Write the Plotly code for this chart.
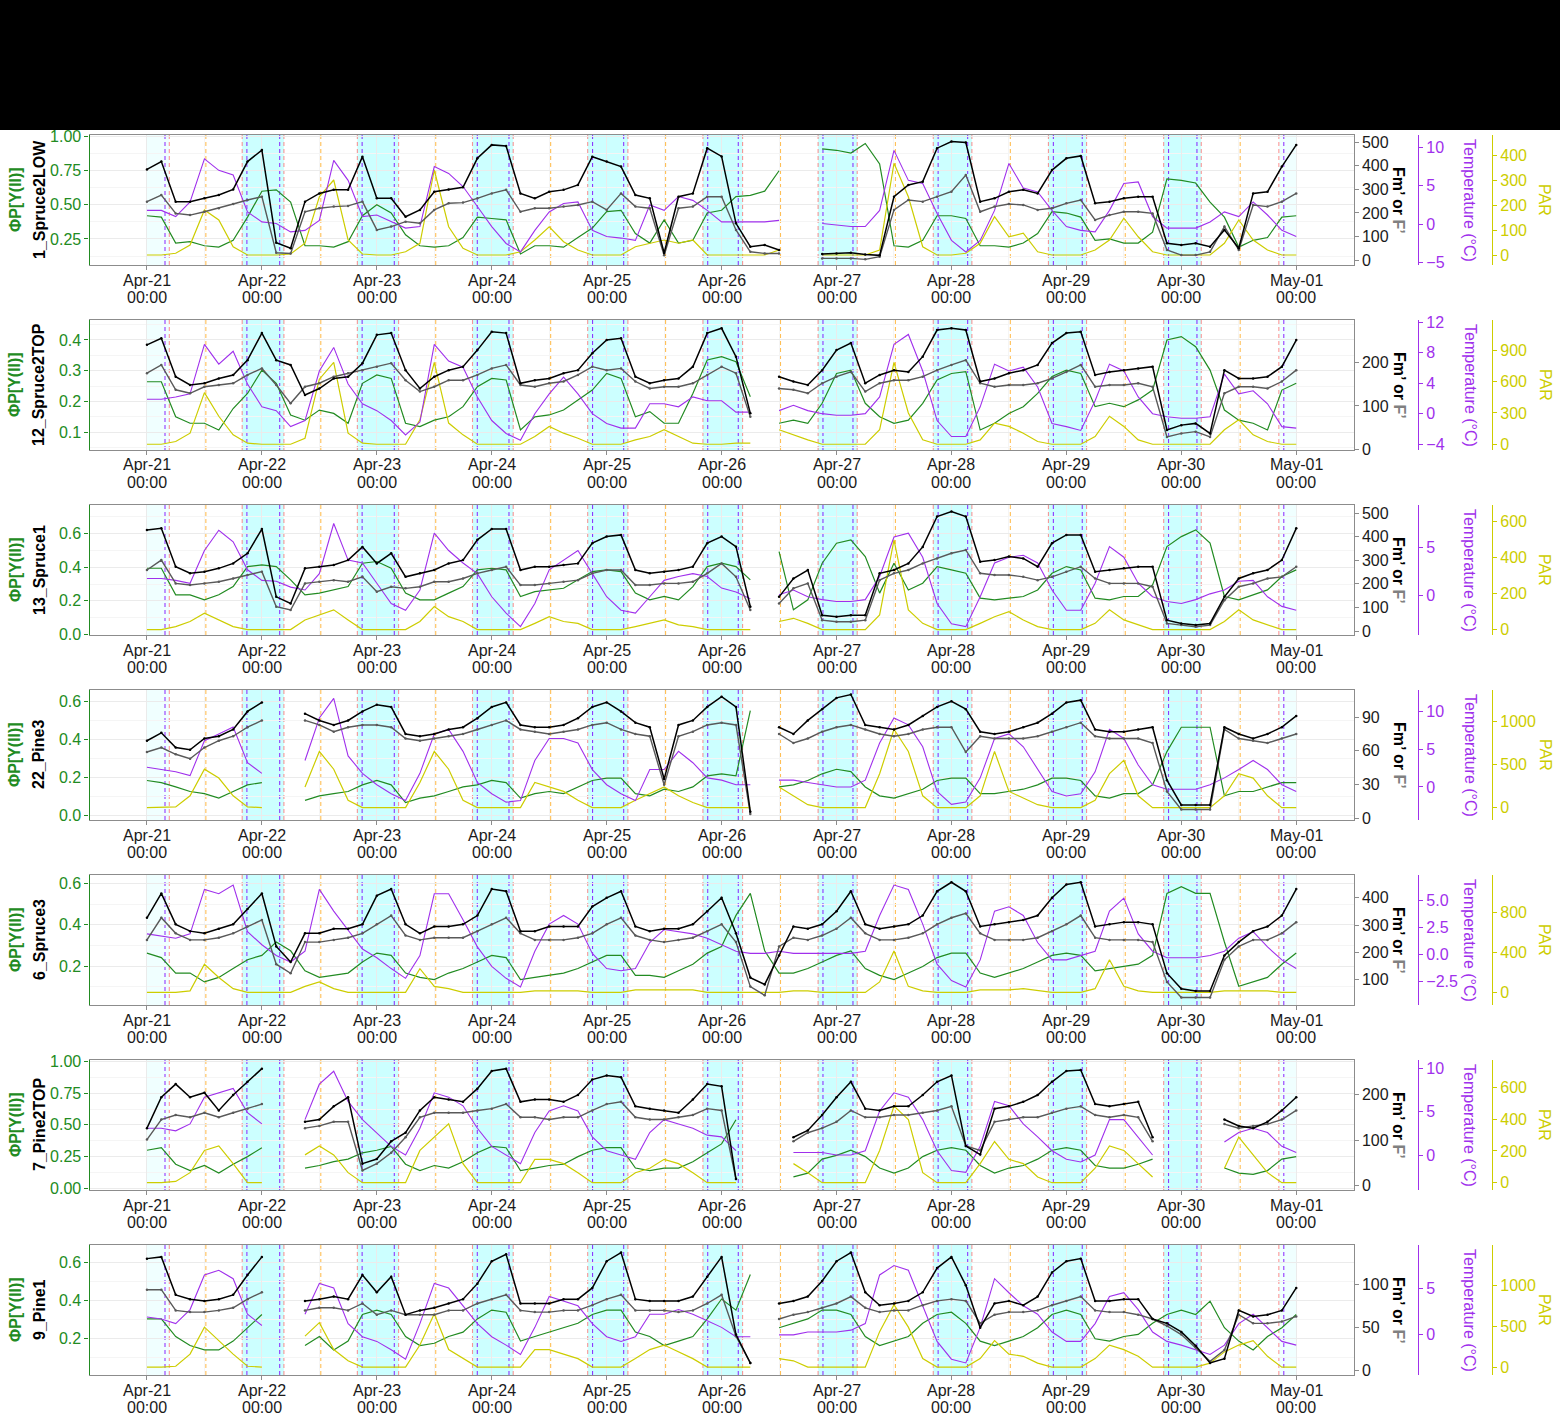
import plotly.graph_objects as go
import pandas as pd

N = None
W, H = 1560, 1424

# ---------------- time grid / labels ----------------
times = pd.date_range("2021-04-21 00:00", "2021-05-01 00:00", freq="3h")
day_ticks = pd.date_range("2021-04-21", "2021-05-01", freq="D")
tick_day = [d.strftime("%b-%d") for d in day_ticks]
tick_hour = ["00:00"] * len(day_ticks)

sunrise = ["2021-04-21 04:40", "2021-04-22 04:36", "2021-04-23 04:33", "2021-04-24 04:29", "2021-04-25 04:26",
           "2021-04-26 04:23", "2021-04-27 04:19", "2021-04-28 04:16", "2021-04-29 04:13", "2021-04-30 04:10"]
sunset = ["2021-04-21 19:53", "2021-04-22 19:56", "2021-04-23 19:59", "2021-04-24 20:02", "2021-04-25 20:06",
          "2021-04-26 20:09", "2021-04-27 20:12", "2021-04-28 20:15", "2021-04-29 20:19", "2021-04-30 20:22"]
dawn = ["2021-04-21 03:46", "2021-04-22 03:43", "2021-04-23 03:39", "2021-04-24 03:36", "2021-04-25 03:33",
        "2021-04-26 03:29", "2021-04-27 03:26", "2021-04-28 03:23", "2021-04-29 03:19", "2021-04-30 03:16"]
dusk = ["2021-04-21 20:52", "2021-04-22 20:56", "2021-04-23 20:59", "2021-04-24 21:03", "2021-04-25 21:06",
        "2021-04-26 21:10", "2021-04-27 21:13", "2021-04-28 21:17", "2021-04-29 21:20", "2021-04-30 21:24"]
noon = ["2021-04-21 12:18", "2021-04-22 12:18", "2021-04-23 12:18", "2021-04-24 12:18", "2021-04-25 12:18",
        "2021-04-26 12:18", "2021-04-27 12:18", "2021-04-28 12:18", "2021-04-29 12:18", "2021-04-30 12:18"]

panel_names = ["1_Spruce2LOW", "12_Spruce2TOP", "13_Spruce1", "22_Pine3", "6_Spruce3", "7_Pine2TOP", "9_Pine1"]

# ---------------- Panel 1 : 1_Spruce2LOW ----------------
p1_fm = [385, 418, 248, 248, 262, 276, 300, 418,
         467, 74, 50, 248, 283, 298, 298, 439,
         262, 262, 184, 213, 290, 300, 309, 432,
         489, 484, 283, 262, 290, 298, 319, 439,
         418, 397, 276, 262, 30, 269, 283, 475,
         440, 156, 57, 64, 43, N, N, 26,
         28, 31, 24, 20, 269, 319, 333, 475,
         503, 499, 248, 262, 290, 298, 283, 382,
         432, 442, 241, 248, 262, 269, 269, 71,
         64, 71, 57, 128, 50, 283, 290, 397,
         489]
p1_f = [248, 276, 198, 191, 205, 220, 238, 255,
        269, 31, 28, 205, 220, 227, 230, 248,
        128, 142, 163, 156, 213, 241, 244, 262,
        283, 298, 205, 220, 220, 227, 234, 248,
        213, 283, 227, 220, 20, 220, 227, 269,
        269, 128, 35, 28, 28, N, N, 7,
        7, 7, 3, 14, 213, 255, 248, 269,
        290, 361, 205, 227, 238, 234, 213, 220,
        241, 255, 170, 191, 205, 205, 198, 43,
        21, 21, 35, 142, 43, 234, 227, 248,
        283]
p1_phi = [0.42, 0.41, 0.22, 0.23, 0.20, 0.19, 0.24, 0.41,
          0.60, 0.61, 0.52, 0.20, 0.20, 0.19, 0.23, 0.42,
          0.50, 0.44, 0.28, 0.20, 0.19, 0.20, 0.26, 0.41,
          0.40, 0.39, 0.14, 0.20, 0.20, 0.19, 0.26, 0.33,
          0.45, 0.46, 0.29, 0.22, 0.39, 0.22, 0.24, 0.44,
          0.46, 0.56, 0.57, 0.60, 0.75, N, N, 0.91,
          0.90, 0.88, 0.95, 0.80, 0.20, 0.19, 0.24, 0.42,
          0.42, 0.40, 0.20, 0.20, 0.19, 0.22, 0.29, 0.45,
          0.44, 0.41, 0.24, 0.25, 0.22, 0.22, 0.30, 0.69,
          0.68, 0.66, 0.52, 0.41, 0.19, 0.24, 0.26, 0.41,
          0.42]
p1_temp = [1.8, 1.8, 1.0, 2.9, 8.5, 7.0, 6.4, 1.6,
           0.3, 0.1, -1.0, -0.8, 0.5, 8.3, 5.7, 1.0,
           1.2, 0.3, -0.5, -0.3, 7.5, 6.6, 4.9, 2.3,
           -0.3, -2.5, -3.6, -0.8, 1.6, 2.7, 2.9, -0.8,
           -1.6, -1.8, -2.1, 2.5, 1.8, 3.6, 3.1, 1.8,
           0.3, 0.3, 0.3, 0.3, 0.5, N, N, 0.1,
           -0.1, -0.3, -0.3, 1.8, 9.6, 5.7, 5.3, 1.4,
           -2.1, -3.6, -2.1, 1.8, 7.9, 4.7, 4.2, 1.8,
           -0.3, -0.8, -1.0, 1.8, 5.3, 5.5, 1.0, -0.5,
           -0.5, -0.5, 0.3, 1.6, 1.0, 2.9, 1.2, -0.8,
           -1.6]
p1_par = [0, 0, 7, 40, 180, 140, 33, 0,
          0, 0, 4, 47, 233, 300, 60, 4,
          0, 0, 13, 47, 340, 113, 27, 0,
          0, 0, 13, 60, 113, 53, 20, 0,
          0, 0, 33, 47, 60, 47, 60, 0,
          0, 0, 0, 0, 20, N, N, 0,
          0, 0, 0, 20, 367, 233, 33, 0,
          0, 7, 47, 153, 73, 87, 13, 0,
          0, 0, 20, 60, 147, 73, 13, 0,
          0, 0, 0, 47, 140, 60, 20, 0,
          0]

# ---------------- Panel 2 : 12_Spruce2TOP ----------------
p2_fm = [240, 255, 167, 148, 152, 163, 171, 205,
         267, 205, 194, 125, 140, 163, 167, 198,
         263, 267, 182, 140, 167, 182, 190, 228,
         270, 267, 152, 159, 163, 175, 182, 221,
         251, 255, 167, 152, 159, 163, 190, 267,
         278, 213, 83, N, 167, 156, 148, 182,
         228, 244, 152, 171, 182, 178, 213, 274,
         278, 274, 156, 163, 175, 182, 194, 244,
         267, 270, 171, 178, 182, 186, 190, 45,
         56, 60, 37, 182, 163, 163, 167, 190,
         251]
p2_f = [175, 194, 137, 129, 144, 148, 152, 171,
        186, 148, 106, 144, 152, 167, 175, 182,
        190, 198, 159, 133, 144, 159, 159, 171,
        186, 194, 148, 144, 152, 156, 171, 190,
        182, 186, 156, 140, 144, 144, 152, 171,
        190, 175, 75, N, 140, 137, 129, 152,
        167, 178, 133, 152, 159, 159, 167, 182,
        194, 205, 152, 144, 148, 148, 152, 163,
        178, 194, 144, 148, 148, 152, 144, 29,
        37, 41, 29, 129, 144, 144, 140, 156,
        182]
p2_phi = [0.264, 0.264, 0.150, 0.129, 0.129, 0.107, 0.177, 0.226,
          0.302, 0.259, 0.156, 0.139, 0.172, 0.161, 0.129, 0.259,
          0.286, 0.275, 0.129, 0.118, 0.139, 0.150, 0.183, 0.248,
          0.275, 0.270, 0.107, 0.150, 0.156, 0.172, 0.205, 0.237,
          0.291, 0.275, 0.150, 0.167, 0.129, 0.129, 0.226, 0.335,
          0.346, 0.329, 0.215, N, 0.129, 0.139, 0.129, 0.194,
          0.291, 0.302, 0.194, 0.150, 0.129, 0.139, 0.194, 0.270,
          0.291, 0.297, 0.107, 0.129, 0.161, 0.183, 0.226, 0.281,
          0.302, 0.291, 0.183, 0.194, 0.183, 0.205, 0.237, 0.400,
          0.411, 0.378, 0.302, 0.172, 0.139, 0.129, 0.107, 0.237,
          0.259]
p2_temp = [1.9, 1.9, 2.2, 2.6, 9.1, 6.5, 8.2, 3.9,
           0.9, 0.4, -1.7, -0.9, 5.6, 8.7, 3.9, 1.3,
           0.4, -0.9, -2.8, -1.1, 9.1, 6.9, 6.1, 2.2,
           -0.9, -2.6, -3.5, 0.0, 2.6, 4.8, 2.6, 0.0,
           -1.3, -1.9, -1.9, 1.3, 1.3, 0.9, 2.2, 1.7,
           1.7, 0.2, 0.2, N, 0.4, 1.1, 0.4, 0.0,
           -0.2, -0.2, 0.0, 2.2, 9.1, 10.4, 5.6, -0.9,
           -3.0, -3.0, 0.9, 6.5, 5.6, 6.1, 3.5, -1.3,
           -1.7, -2.2, 1.7, 6.5, 5.6, 2.2, 0.0, -0.4,
           -0.6, -0.6, -0.4, 5.2, 2.6, 3.0, 1.3, -1.7,
           -1.9]
p2_par = [0, 0, 26, 106, 494, 268, 90, 10,
          0, 0, 0, 58, 623, 784, 106, 10,
          0, 0, 0, 235, 784, 203, 90, 0,
          0, 0, 0, 74, 171, 106, 58, 0,
          0, 0, 42, 74, 139, 74, 10, 0,
          0, 10, 10, N, 139, 90, 42, 0,
          0, 0, 0, 139, 784, 300, 42, 0,
          0, 0, 42, 203, 171, 106, 26, 0,
          0, 0, 74, 268, 171, 42, 0, 0,
          0, 0, 0, 139, 235, 90, 26, 0,
          0]

# ---------------- Panel 3 : 13_Spruce1 ----------------
p3_fm = [429, 436, 273, 245, 252, 266, 287, 330,
         433, 145, 117, 266, 273, 280, 301, 357,
         287, 330, 230, 245, 259, 287, 301, 387,
         433, 433, 259, 273, 273, 280, 287, 373,
         401, 408, 259, 245, 252, 259, 273, 373,
         401, 358, 103, N, 145, 223, 259, 67,
         60, 67, 67, 245, 259, 287, 357, 486,
         507, 486, 294, 301, 316, 308, 273, 373,
         408, 408, 252, 259, 266, 273, 273, 46,
         32, 25, 32, 145, 223, 245, 259, 301,
         436]
p3_f = [259, 301, 202, 195, 202, 209, 223, 238,
        252, 103, 89, 202, 209, 216, 209, 230,
        167, 188, 181, 188, 209, 209, 223, 245,
        259, 273, 195, 195, 202, 209, 216, 245,
        259, 259, 195, 195, 202, 202, 209, 245,
        287, 230, 89, N, 117, 181, 202, 46,
        39, 39, 46, 216, 245, 259, 287, 308,
        330, 344, 245, 238, 238, 230, 216, 230,
        252, 273, 223, 202, 202, 202, 188, 32,
        25, 18, 25, 131, 188, 202, 223, 230,
        273]
p3_phi = [0.394, 0.394, 0.236, 0.236, 0.206, 0.236, 0.285, 0.404,
          0.414, 0.404, 0.325, 0.236, 0.246, 0.265, 0.285, 0.424,
          0.434, 0.394, 0.246, 0.206, 0.206, 0.246, 0.285, 0.384,
          0.394, 0.384, 0.226, 0.255, 0.265, 0.275, 0.325, 0.374,
          0.384, 0.374, 0.246, 0.206, 0.226, 0.206, 0.285, 0.404,
          0.424, 0.404, 0.325, N, 0.493, 0.147, 0.206, 0.424,
          0.543, 0.562, 0.463, 0.246, 0.424, 0.265, 0.305, 0.404,
          0.384, 0.364, 0.216, 0.206, 0.216, 0.226, 0.265, 0.364,
          0.404, 0.384, 0.216, 0.206, 0.226, 0.226, 0.295, 0.523,
          0.582, 0.622, 0.543, 0.226, 0.206, 0.236, 0.265, 0.345,
          0.384]
p3_temp = [1.8, 1.8, 1.6, 1.3, 4.7, 6.8, 5.6, 2.7,
           1.6, 1.5, 0.9, 0.6, 2.3, 7.5, 3.7, 3.4,
           1.3, -0.8, -1.5, 0.6, 6.5, 4.7, 3.4, 2.3,
           -0.1, -1.8, -3.2, -0.8, 2.7, 3.7, 4.7, 2.3,
           -0.1, -1.5, -1.8, -0.1, 1.6, 2.0, 2.3, 2.0,
           0.8, 0.4, -0.3, N, 0.1, 0.6, -0.1, -0.4,
           -0.6, -0.6, -0.4, 2.0, 6.1, 6.5, 4.0, -0.8,
           -2.9, -3.2, -0.1, 3.4, 4.0, 4.2, 3.4, 0.6,
           -1.5, -1.5, 1.3, 5.1, 4.0, 1.3, -0.1, -0.6,
           -0.8, -0.4, 0.2, 0.6, 1.5, 1.6, -0.1, -1.1,
           -1.5]
p3_par = [0, 0, 17, 45, 91, 54, 17, 0,
          0, 0, 0, 54, 82, 110, 54, 0,
          0, 0, 0, 45, 128, 72, 45, 0,
          0, 0, 0, 35, 72, 45, 35, 0,
          0, 0, 17, 35, 54, 26, 17, 0,
          0, 0, 0, N, 45, 63, 35, 0,
          0, 0, 0, 82, 500, 110, 35, 0,
          0, 0, 35, 72, 100, 54, 17, 0,
          0, 0, 35, 110, 54, 26, 0, 0,
          0, 0, 0, 45, 110, 54, 26, 0,
          0]

# ---------------- Panel 4 : 22_Pine3 ----------------
p4_fm = [69, 76, 63, 61, 71, 73, 79, 95,
         103, N, N, 93, 87, 83, 87, 95,
         101, 99, 75, 73, 75, 79, 81, 89,
         99, 103, 83, 81, 81, 83, 89, 99,
         103, 95, 85, 81, 35, 83, 87, 99,
         108, 99, 6, N, 81, 75, 87, 97,
         107, 110, 83, 81, 79, 83, 91, 99,
         104, 97, 77, 75, 77, 81, 85, 93,
         103, 105, 79, 77, 77, 79, 81, 34,
         12, 12, 12, 81, 75, 71, 75, 81,
         91]
p4_f = [59, 63, 57, 53, 63, 69, 73, 81,
        87, N, N, 87, 83, 77, 81, 83,
        83, 81, 71, 69, 71, 73, 75, 79,
        83, 87, 79, 77, 75, 77, 79, 83,
        85, 79, 75, 73, 30, 73, 77, 83,
        85, 83, 4, N, 75, 67, 71, 77,
        81, 83, 79, 75, 73, 75, 79, 81,
        81, 59, 73, 71, 71, 71, 73, 77,
        81, 85, 73, 71, 71, 71, 67, 24,
        8, 8, 8, 79, 71, 69, 67, 71,
        75]
p4_phi = [0.183, 0.172, 0.149, 0.125, 0.114, 0.090, 0.125, 0.160,
          0.172, N, N, 0.078, 0.102, 0.114, 0.125, 0.160,
          0.183, 0.160, 0.067, 0.090, 0.102, 0.125, 0.149, 0.160,
          0.183, 0.172, 0.090, 0.114, 0.125, 0.114, 0.149, 0.183,
          0.195, 0.195, 0.114, 0.102, 0.137, 0.125, 0.149, 0.207,
          0.218, 0.207, 0.550, N, 0.149, 0.160, 0.183, 0.218,
          0.242, 0.230, 0.149, 0.102, 0.090, 0.114, 0.137, 0.183,
          0.195, 0.195, 0.114, 0.114, 0.125, 0.137, 0.160, 0.195,
          0.195, 0.183, 0.102, 0.090, 0.114, 0.114, 0.160, 0.335,
          0.463, 0.463, 0.463, 0.102, 0.125, 0.125, 0.149, 0.172,
          0.172]
p4_temp = [2.6, 2.3, 2.0, 1.5, 6.1, 7.0, 7.9, 3.2,
           1.8, N, N, 3.5, 9.1, 11.7, 4.1, 1.8,
           0.3, -0.9, -1.8, 1.8, 7.0, 7.6, 4.7, 0.6,
           -0.9, -2.0, -1.8, 3.5, 6.4, 6.4, 5.8, 2.3,
           0.3, -0.9, -1.8, 2.3, 2.3, 4.7, 3.2, 1.2,
           0.9, 0.3, 0.3, N, 0.9, 0.9, 0.6, 0.3,
           0.0, 0.0, 0.9, 5.8, 9.1, 8.2, 5.3, -0.6,
           -2.3, -2.0, 1.2, 6.4, 7.0, 5.3, 2.3, -0.6,
           -1.2, -0.9, 2.0, 7.6, 6.4, 2.9, 0.3, -0.3,
           -0.3, -0.3, 0.3, 1.2, 2.3, 3.5, 2.3, 0.3,
           -0.6]
p4_par = [0, 0, 8, 137, 446, 343, 137, 8,
          0, N, N, 240, 652, 446, 86, 0,
          0, 0, 0, 292, 652, 446, 86, 0,
          0, 0, 0, 292, 240, 188, 86, 0,
          0, 0, 86, 163, 240, 137, 60, 0,
          0, 0, 0, N, 240, 137, 34, 0,
          0, 0, 0, 394, 910, 652, 137, 0,
          0, 0, 137, 652, 188, 111, 34, 0,
          0, 0, 86, 394, 549, 137, 0, 0,
          0, 0, 0, 137, 394, 343, 137, 0,
          0]

# ---------------- Panel 5 : 6_Spruce3 ----------------
p5_fm = [327, 416, 303, 278, 270, 287, 303, 359,
         416, 222, 165, 270, 270, 287, 287, 303,
         408, 432, 303, 270, 295, 295, 303, 335,
         432, 424, 278, 278, 295, 295, 295, 368,
         400, 424, 295, 278, 287, 287, 303, 351,
         400, 270, 108, 83, 189, 295, 287, 303,
         351, 424, 303, 287, 295, 303, 335, 424,
         457, 424, 295, 303, 311, 319, 335, 400,
         449, 457, 295, 303, 311, 311, 303, 124,
         67, 59, 59, 189, 238, 278, 295, 335,
         432]
p5_f = [246, 327, 270, 246, 246, 254, 270, 295,
        319, 157, 124, 238, 238, 246, 254, 270,
        303, 335, 262, 246, 254, 254, 254, 278,
        303, 327, 270, 246, 246, 246, 254, 270,
        303, 327, 262, 246, 238, 246, 254, 278,
        303, 238, 75, 43, 222, 254, 246, 262,
        287, 327, 270, 246, 246, 254, 270, 303,
        327, 343, 270, 246, 246, 246, 254, 278,
        303, 335, 254, 246, 246, 246, 238, 92,
        35, 35, 35, 173, 222, 246, 246, 270,
        311]
p5_phi = [0.263, 0.241, 0.166, 0.166, 0.123, 0.145, 0.188, 0.231,
          0.252, 0.317, 0.274, 0.177, 0.145, 0.155, 0.166, 0.220,
          0.263, 0.252, 0.166, 0.145, 0.134, 0.166, 0.188, 0.220,
          0.252, 0.241, 0.134, 0.145, 0.155, 0.166, 0.188, 0.220,
          0.252, 0.252, 0.155, 0.155, 0.145, 0.177, 0.209, 0.263,
          0.295, 0.446, 0.553, 0.274, 0.166, 0.166, 0.188, 0.220,
          0.252, 0.274, 0.188, 0.155, 0.134, 0.166, 0.198, 0.241,
          0.263, 0.263, 0.166, 0.145, 0.166, 0.188, 0.220, 0.252,
          0.263, 0.252, 0.177, 0.188, 0.198, 0.209, 0.252, 0.553,
          0.585, 0.553, 0.553, 0.317, 0.102, 0.123, 0.145, 0.209,
          0.263]
p5_temp = [1.9, 1.7, 1.5, 1.9, 6.0, 5.6, 6.4, 2.1,
           0.9, -0.1, -0.7, 0.3, 6.0, 4.0, 2.3, 0.5,
           -0.3, -1.3, -2.2, -0.1, 5.6, 5.6, 3.2, 0.7,
           -1.1, -2.2, -3.0, 0.3, 2.8, 3.6, 2.8, 0.1,
           -1.3, -1.5, -1.3, 1.1, 2.3, 2.1, 1.9, 1.5,
           0.9, 0.3, 0.1, 0.1, 0.3, 0.1, 0.1, 0.1,
           0.1, 0.1, 0.3, 3.6, 6.4, 6.0, 2.8, -0.9,
           -2.4, -3.0, -0.5, 4.0, 4.4, 3.6, 1.1, -0.5,
           -0.5, -0.1, 0.3, 4.0, 5.2, 1.9, 0.3, -0.3,
           -0.3, -0.3, -0.1, 0.3, 1.5, 2.1, 0.7, -0.5,
           -1.3]
p5_par = [0, 0, 0, 15, 280, 148, 37, 0,
          0, 0, 0, 60, 104, 37, 0, 0,
          0, 0, 0, 236, 60, 37, 0, 0,
          0, 0, 0, 15, 15, 15, 15, 0,
          0, 0, 24, 24, 24, 24, 24, 0,
          0, 0, 0, 0, 0, 15, 15, 0,
          0, 0, 0, 104, 413, 60, 15, 0,
          0, 0, 24, 24, 24, 37, 15, 0,
          0, 0, 37, 325, 60, 15, 0, 0,
          0, 0, 0, 15, 15, 15, 15, 0,
          0]

# ---------------- Panel 6 : 7_Pine2TOP ----------------
p6_fm = [126, 194, 223, 194, 204, 165, 199, 228,
         257, N, N, 140, 145, 174, 194, 48,
         58, 97, 116, 165, 194, 189, 184, 213,
         252, 257, 184, 189, 189, 184, 199, 233,
         242, 238, 174, 169, 165, 160, 189, 223,
         218, 14, N, N, N, 106, 121, 155,
         194, 228, 169, 165, 174, 174, 199, 228,
         242, 87, 68, 169, 174, 184, 199, 228,
         252, 254, 179, 174, 179, 184, 106, N,
         N, N, N, 145, 131, 126, 140, 165,
         194]
p6_f = [101, 145, 155, 150, 160, 150, 160, 169,
        179, N, N, 126, 131, 140, 140, 33,
        48, 72, 106, 150, 160, 160, 160, 165,
        169, 179, 150, 150, 145, 150, 150, 165,
        179, 184, 150, 145, 145, 150, 155, 169,
        165, 14, N, N, N, 97, 116, 126,
        140, 165, 150, 150, 155, 155, 160, 165,
        174, 87, 77, 140, 145, 150, 150, 160,
        169, 174, 155, 150, 155, 150, 97, N,
        N, N, N, 135, 126, 131, 135, 145,
        165]
p6_phi = [0.30, 0.32, 0.19, 0.14, 0.18, 0.12, 0.19, 0.25,
          0.32, N, N, 0.16, 0.18, 0.21, 0.23, 0.28,
          0.30, 0.33, 0.19, 0.14, 0.18, 0.16, 0.21, 0.28,
          0.33, 0.32, 0.14, 0.16, 0.18, 0.19, 0.25, 0.30,
          0.32, 0.32, 0.16, 0.14, 0.16, 0.16, 0.21, 0.28,
          0.35, 0.54, N, N, N, 0.09, 0.12, 0.23,
          0.26, 0.30, 0.25, 0.16, 0.12, 0.16, 0.25, 0.30,
          0.32, 0.30, 0.18, 0.12, 0.16, 0.18, 0.23, 0.30,
          0.32, 0.30, 0.18, 0.16, 0.16, 0.19, 0.23, N,
          N, N, N, 0.16, 0.12, 0.11, 0.14, 0.23,
          0.25]
p6_temp = [3.1, 3.1, 2.8, 3.6, 6.7, 7.2, 7.7, 4.9,
           3.6, N, N, 4.1, 8.2, 9.7, 6.2, 4.1,
           2.6, 1.0, 0.0, 3.1, 7.2, 6.7, 5.7, 3.1,
           1.0, 0.0, -1.0, 2.6, 5.1, 5.7, 5.1, 2.1,
           0.5, 0.0, -0.5, 2.6, 4.1, 3.6, 3.1, 2.3,
           2.1, 0.5, N, N, N, 0.3, 0.3, 0.3,
           0.0, 0.0, 0.5, 5.1, 7.2, 6.7, 4.1, 0.5,
           -1.8, -2.0, 1.0, 6.2, 5.7, 3.6, 2.1, 0.5,
           -0.5, -0.8, 0.0, 4.1, 4.1, 2.1, 0.0, N,
           N, N, N, 1.5, 2.6, 3.1, 2.6, 1.0,
           0.3]
p6_par = [0, 0, 8, 63, 203, 231, 120, 0,
          0, N, N, 175, 231, 175, 63, 0,
          0, 0, 0, 203, 287, 370, 120, 0,
          0, 0, 0, 147, 147, 120, 63, 0,
          0, 0, 63, 91, 147, 120, 63, 0,
          0, 0, N, N, N, 120, 63, 0,
          0, 0, 0, 203, 482, 397, 63, 0,
          0, 0, 120, 259, 147, 120, 36, 0,
          0, 0, 91, 231, 203, 120, 36, N,
          N, N, N, 91, 287, 175, 63, 0,
          0]

# ---------------- Panel 7 : 9_Pine1 ----------------
p7_fm = [130, 132, 88, 83, 81, 83, 88, 111,
         132, N, N, 81, 83, 86, 83, 111,
         91, 109, 65, 70, 73, 78, 83, 101,
         127, 135, 78, 78, 78, 83, 83, 96,
         127, 137, 83, 81, 81, 81, 86, 109,
         132, 42, 9, N, 78, 81, 86, 104,
         127, 137, 91, 76, 78, 81, 91, 119,
         132, 99, 50, 78, 81, 76, 86, 114,
         127, 130, 81, 81, 83, 83, 60, 55,
         45, 29, 9, 14, 70, 63, 65, 70,
         96]
p7_f = [94, 94, 70, 68, 68, 70, 73, 83,
        91, N, N, 70, 73, 73, 70, 78,
        65, 70, 65, 65, 65, 70, 70, 78,
        83, 88, 70, 68, 68, 70, 70, 76,
        83, 88, 70, 70, 70, 68, 70, 78,
        88, 40, 9, N, 60, 65, 68, 73,
        78, 86, 73, 68, 70, 70, 76, 81,
        83, 81, 55, 65, 68, 68, 70, 76,
        81, 86, 70, 68, 68, 65, 60, 52,
        42, 27, 11, 24, 65, 55, 55, 57,
        63]
p7_phi = [0.304, 0.304, 0.212, 0.165, 0.142, 0.142, 0.188, 0.258,
          0.327, N, N, 0.165, 0.212, 0.142, 0.188, 0.327,
          0.350, 0.327, 0.212, 0.165, 0.177, 0.212, 0.235, 0.304,
          0.350, 0.339, 0.188, 0.212, 0.235, 0.258, 0.281, 0.327,
          0.350, 0.350, 0.235, 0.212, 0.165, 0.188, 0.212, 0.304,
          0.408, 0.350, 0.536, N, 0.258, 0.281, 0.304, 0.350,
          0.350, 0.327, 0.212, 0.165, 0.188, 0.212, 0.281, 0.327,
          0.339, 0.281, 0.188, 0.165, 0.188, 0.212, 0.258, 0.327,
          0.350, 0.327, 0.200, 0.188, 0.212, 0.223, 0.281, 0.327,
          0.350, 0.327, 0.397, 0.258, 0.188, 0.142, 0.212, 0.258,
          0.327]
p7_temp = [1.9, 1.7, 1.2, 2.7, 6.4, 6.9, 6.0, 2.2,
           1.0, N, N, 2.2, 5.5, 5.0, 1.2, -0.2,
           -0.7, -1.6, -2.6, 1.2, 5.5, 5.0, 3.1, 1.2,
           -0.2, -1.1, -2.1, 0.8, 4.1, 3.6, 3.1, 1.2,
           -0.2, -0.7, -0.2, 2.2, 2.2, 2.7, 2.2, 1.5,
           0.8, -0.2, -0.2, N, 0.0, 0.0, 0.3, 0.3,
           0.3, 0.5, 1.2, 6.4, 7.4, 6.9, 3.1, -0.7,
           -2.6, -3.0, 0.8, 6.0, 4.5, 3.1, 2.2, 0.3,
           -0.7, -0.7, 1.2, 4.1, 4.5, 2.7, 0.3, -0.7,
           -1.1, -1.6, -2.1, -1.1, 1.2, 2.2, 0.8, -0.7,
           -1.1]
p7_par = [0, 0, 11, 159, 488, 324, 159, 11,
          0, N, N, 378, 543, 214, 77, 0,
          0, 0, 0, 269, 652, 214, 104, 0,
          0, 0, 0, 214, 214, 159, 104, 0,
          0, 0, 104, 214, 269, 186, 104, 0,
          0, 0, 0, N, 104, 77, 0, 0,
          0, 0, 0, 433, 762, 488, 104, 0,
          0, 0, 104, 324, 159, 132, 49, 0,
          0, 0, 104, 269, 214, 132, 0, 0,
          0, 0, 49, 186, 269, 324, 132, 0,
          0]

# ---------------- axis settings per panel ----------------
phi_range = [[0.059, 1.012], [0.042, 0.465], [-0.003, 0.770], [-0.025, 0.659], [0.011, 0.642], [-0.013, 1.011], [0.011, 0.690]]
phi_dtick = [0.25, 0.1, 0.2, 0.2, 0.2, 0.25, 0.2]
phi_fmt = [".2f", ".1f", ".1f", ".1f", ".1f", ".2f", ".1f"]
fm_range = [[-21, 531], [-1, 297], [-17, 535], [-1.3, 114], [7.7, 483.5], [-10, 276], [-4.9, 145.8]]
fm_dtick = [100, 100, 100, 30, 100, 100, 50]
temp_range = [[-5.3, 11.6], [-4.77, 12.3], [-4.07, 9.42], [-4.36, 12.8], [-4.66, 7.33], [-4.05, 11.0], [-4.29, 9.6]]
temp_dtick = [5, 4, 5, 5, 2.5, 5, 5]
temp_fmt = ["", "", "", "", ".1f", "", ""]
par_range = [[-40, 480], [-55, 1190], [-30, 694], [-144, 1366], [-126, 1171], [-46, 772], [-96, 1490]]
par_dtick = [100, 300, 200, 500, 400, 200, 500]

panels = [
    dict(fm=p1_fm, f=p1_f, phi=p1_phi, temp=p1_temp, par=p1_par),
    dict(fm=p2_fm, f=p2_f, phi=p2_phi, temp=p2_temp, par=p2_par),
    dict(fm=p3_fm, f=p3_f, phi=p3_phi, temp=p3_temp, par=p3_par),
    dict(fm=p4_fm, f=p4_f, phi=p4_phi, temp=p4_temp, par=p4_par),
    dict(fm=p5_fm, f=p5_f, phi=p5_phi, temp=p5_temp, par=p5_par),
    dict(fm=p6_fm, f=p6_f, phi=p6_phi, temp=p6_temp, par=p6_par),
    dict(fm=p7_fm, f=p7_f, phi=p7_phi, temp=p7_temp, par=p7_par),
]
for p in panels:
    for k, v in p.items():
        assert len(v) == len(times), (k, len(v))

# ---------------- style ----------------
FONT = "Liberation Sans, Arial, sans-serif"
GREEN = "#228B22"
PURPLE = "#A030EC"
YELLOW = "#CDCD00"
GRAYLINE = "#595959"
BORDER = "#8C8C8C"
TICKFS = 16

X0, X1 = 89.5 / W, 1353.7 / W
XRANGE = ["2021-04-20 12:00", "2021-05-01 12:00"]


def axname(prefix, n):
    return prefix if n == 1 else f"{prefix}{n}"


fig = go.Figure()
layout = {}
shapes = []
annotations = []

for i, p in enumerate(panels):
    top = 135 + 185 * i
    bot = top + 130
    dom = [1 - bot / H, 1 - top / H]
    xn = i + 1
    yb = 4 * i + 1       # phi (base, left)
    ypar = 4 * i + 2     # PAR
    ytemp = 4 * i + 3    # temperature
    yfm = 4 * i + 4      # Fm' / F'
    xr = axname("x", xn)

    # x axis (labels drawn as annotations below)
    layout["xaxis" if xn == 1 else f"xaxis{xn}"] = dict(
        domain=[X0, X1], anchor=axname("y", yb), type="date", range=XRANGE,
        tickmode="array", tickvals=list(day_ticks), showticklabels=False,
        ticks="outside", ticklen=4, tickcolor=BORDER,
        showline=True, linecolor=BORDER, linewidth=1, mirror=True,
        showgrid=True, gridcolor="#EBEBEB", gridwidth=1,
        minor=dict(dtick=43200000, tick0="2021-04-21", showgrid=True, gridcolor="#F5F5F5", gridwidth=0.6),
        zeroline=False, automargin=False, fixedrange=True)

    # phi axis (left, base)
    layout["yaxis" if yb == 1 else f"yaxis{yb}"] = dict(
        domain=dom, anchor=xr, side="left", range=phi_range[i],
        tickmode="linear", tick0=0, dtick=phi_dtick[i], tickformat=phi_fmt[i],
        tickfont=dict(size=TICKFS, color=GREEN, family=FONT),
        ticks="outside", ticklen=4, tickcolor=GREEN,
        showline=True, linecolor=GREEN, linewidth=1.2,
        showgrid=True, gridcolor="#EBEBEB", gridwidth=1,
        minor=dict(tick0=0, dtick=phi_dtick[i] / 2, showgrid=True, gridcolor="#F5F5F5", gridwidth=0.6),
        zeroline=False, automargin=False, fixedrange=True)

    # PAR axis
    layout[f"yaxis{ypar}"] = dict(
        overlaying=axname("y", yb), anchor="free", position=1492 / W, side="right",
        range=par_range[i], tickmode="linear", tick0=0, dtick=par_dtick[i],
        tickfont=dict(size=TICKFS, color=YELLOW, family=FONT),
        ticks="outside", ticklen=4, tickcolor=YELLOW,
        showline=True, linecolor=YELLOW, linewidth=1.2,
        showgrid=False, zeroline=False, automargin=False, fixedrange=True)

    # temperature axis
    layout[f"yaxis{ytemp}"] = dict(
        overlaying=axname("y", yb), anchor="free", position=1418 / W, side="right",
        range=temp_range[i], tickmode="linear", tick0=0, dtick=temp_dtick[i], tickformat=temp_fmt[i],
        tickfont=dict(size=TICKFS, color=PURPLE, family=FONT),
        ticks="outside", ticklen=4, tickcolor=PURPLE,
        showline=True, linecolor=PURPLE, linewidth=1.2,
        showgrid=False, zeroline=False, automargin=False, fixedrange=True)

    # Fm axis (right border)
    layout[f"yaxis{yfm}"] = dict(
        overlaying=axname("y", yb), anchor=xr, side="right",
        range=fm_range[i], tickmode="linear", tick0=0, dtick=fm_dtick[i],
        tickfont=dict(size=TICKFS, color="#1a1a1a", family=FONT),
        ticks="outside", ticklen=4, tickcolor=BORDER,
        showline=True, linecolor=BORDER, linewidth=1,
        showgrid=False, zeroline=False, automargin=False, fixedrange=True)

    # night shading
    ydom = axname("y", yb) + " domain"
    shapes.append(dict(type="rect", xref=xr, yref=ydom, x0="2021-04-21 00:00", x1=sunrise[0], y0=0, y1=1,
                       fillcolor="rgba(0,255,255,0.06)", line=dict(width=0), layer="below"))
    for d in range(9):
        shapes.append(dict(type="rect", xref=xr, yref=ydom, x0=sunset[d], x1=sunrise[d + 1], y0=0, y1=1,
                           fillcolor="rgba(0,255,255,0.2)", line=dict(width=0), layer="below"))
    shapes.append(dict(type="rect", xref=xr, yref=ydom, x0=sunset[9], x1="2021-05-01 00:00", y0=0, y1=1,
                       fillcolor="rgba(0,255,255,0.06)", line=dict(width=0), layer="below"))
    # dashed lines
    for lst, col in ((noon, "rgba(255,170,30,0.75)"), (sunrise, "rgba(255,80,80,0.6)"), (sunset, "rgba(255,80,80,0.6)"),
                     (dawn, "rgba(130,20,255,0.85)"), (dusk, "rgba(130,20,255,0.85)")):
        for t in lst:
            shapes.append(dict(type="line", xref=xr, yref=ydom, x0=t, x1=t, y0=0, y1=1,
                               line=dict(color=col, width=1.1, dash="4px,3px"), layer="below"))

    # traces
    fig.add_trace(go.Scatter(x=times, y=p["phi"], xaxis=xr, yaxis=axname("y", yb), mode="lines",
                             line=dict(color=GREEN, width=1.2), showlegend=False, hoverinfo="skip"))
    fig.add_trace(go.Scatter(x=times, y=p["par"], xaxis=xr, yaxis=axname("y", ypar), mode="lines",
                             line=dict(color=YELLOW, width=1.2), showlegend=False, hoverinfo="skip"))
    fig.add_trace(go.Scatter(x=times, y=p["temp"], xaxis=xr, yaxis=axname("y", ytemp), mode="lines",
                             line=dict(color=PURPLE, width=1.1), showlegend=False, hoverinfo="skip"))
    fig.add_trace(go.Scatter(x=times, y=p["f"], xaxis=xr, yaxis=axname("y", yfm), mode="lines+markers",
                             line=dict(color=GRAYLINE, width=1.4), marker=dict(size=2.5, color=GRAYLINE),
                             showlegend=False, hoverinfo="skip"))
    fig.add_trace(go.Scatter(x=times, y=p["fm"], xaxis=xr, yaxis=axname("y", yfm), mode="lines+markers",
                             line=dict(color="#000000", width=1.5), marker=dict(size=2.5, color="#000000"),
                             showlegend=False, hoverinfo="skip"))

    # x tick labels (two lines)
    for d, lab1, lab2 in zip(day_ticks, tick_day, tick_hour):
        annotations.append(dict(x=d, y=1 - (bot + 15) / H, xref=xr, yref="paper", text=lab1, showarrow=False,
                                font=dict(size=TICKFS, color="#1a1a1a", family=FONT),
                                xanchor="center", yanchor="middle"))
        annotations.append(dict(x=d, y=1 - (bot + 32) / H, xref=xr, yref="paper", text=lab2, showarrow=False,
                                font=dict(size=TICKFS, color="#1a1a1a", family=FONT),
                                xanchor="center", yanchor="middle"))

    # titles
    yc = 1 - (top + 65) / H
    annotations += [
        dict(x=15 / W, y=yc, xref="paper", yref="paper", text="<b>ΦP[Y(II)]</b>", textangle=-90,
             showarrow=False, font=dict(size=16, color=GREEN, family=FONT), xanchor="center", yanchor="middle"),
        dict(x=39 / W, y=yc, xref="paper", yref="paper", text=f"<b>{panel_names[i]}</b>", textangle=-90,
             showarrow=False, font=dict(size=16, color="#000000", family=FONT), xanchor="center", yanchor="middle"),
        dict(x=1399 / W, y=yc, xref="paper", yref="paper",
             text="<b>Fm’ or <span style='color:#808080'>F’</span></b>", textangle=90,
             showarrow=False, font=dict(size=16, color="#000000", family=FONT), xanchor="center", yanchor="middle"),
        dict(x=1470 / W, y=yc, xref="paper", yref="paper", text="Temperature (°C)", textangle=90,
             showarrow=False, font=dict(size=16, color=PURPLE, family=FONT), xanchor="center", yanchor="middle"),
        dict(x=1545 / W, y=yc, xref="paper", yref="paper", text="PAR", textangle=90,
             showarrow=False, font=dict(size=16, color=YELLOW, family=FONT), xanchor="center", yanchor="middle"),
    ]

# black header band
shapes.append(dict(type="rect", xref="paper", yref="paper", x0=0, x1=1, y0=1 - 130 / H, y1=1,
                   fillcolor="#000000", line=dict(width=0), layer="above"))

fig.update_layout(
    width=W, height=H, margin=dict(l=0, r=0, t=0, b=0),
    paper_bgcolor="white", plot_bgcolor="white",
    font=dict(family=FONT, size=15, color="#1a1a1a"),
    shapes=shapes, annotations=annotations, showlegend=False,
    **layout)

fig.write_html("out.html")
